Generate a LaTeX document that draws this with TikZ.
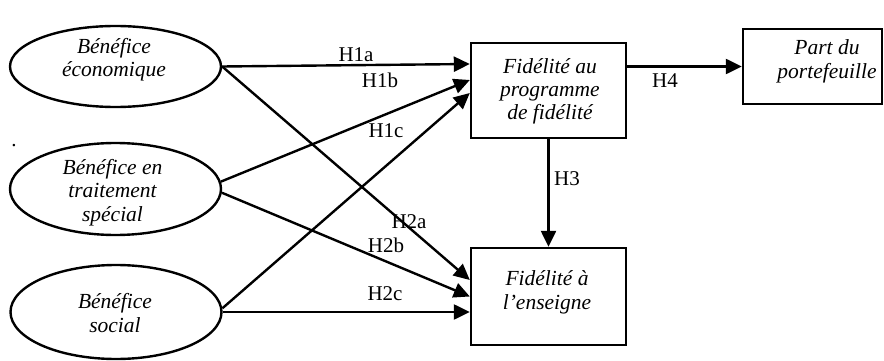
\documentclass[tikz,border=0pt]{standalone}
\usepackage{fontspec}
\setmainfont{Liberation Serif}
\usetikzlibrary{arrows.meta,shapes.geometric}
\begin{document}
\begin{tikzpicture}[x=1pt,y=-1pt,
  font=\fontsize{21}{23.5}\selectfont,
  ell/.style={draw, ellipse, line width=2.4pt, minimum width=211pt, inner sep=0pt},
  box/.style={draw, rectangle, line width=2.4pt, inner sep=0pt},
  txt/.style={font=\fontsize{21.5}{23.5}\selectfont\itshape, align=center, anchor=base, inner sep=0pt},
  lab/.style={anchor=base, inner sep=0pt},
  arr/.style={line width=2.4pt, -{Triangle[length=16pt,width=15pt]}}]
\useasboundingbox (0,0) rectangle (884,361);
% shapes
\node[ell, minimum height=81pt] (e1) at (115.5,66.5) {};
\node[ell, minimum height=92pt] (e2) at (115.5,189) {};
\node[ell, minimum height=94pt] (e3) at (116,312) {};
\node[box, minimum width=155pt, minimum height=95pt] (b1) at (548.5,90.5) {};
\node[box, minimum width=155pt, minimum height=97pt] (b3) at (548.5,296.5) {};
\node[box, minimum width=139pt, minimum height=75pt] (b2) at (812.5,66.5) {};
% texts (anchor base = last line baseline)
\node[txt] (t1) at (114,77) {Bénéfice\\économique};
\node[txt] (t2) at (112.5,221) {Bénéfice en\\traitement\\spécial};
\node[txt] (t3) at (115,332) {Bénéfice\\social};
\node[txt] (t4) at (550,120) {Fidélité au\\programme\\de fidélité};
\node[txt] (t5) at (547,309) {Fidélité à\\l’enseigne};
\node[txt] (t6) at (827,78) {Part du\\portefeuille};
\node[lab] (dot) at (14,146) {.};
% connectors
\draw[arr] (e1.east) -- ([yshift=26.5pt]b1.west);
\draw[arr] (e1.east) -- ([yshift=16.5pt]b3.west);
\draw[arr] (e2.4) -- ([yshift=10.5pt]b1.west);
\draw[arr] (e2.-2) -- (b3.west);
\draw[arr] (e3.2) -- ([yshift=-2.5pt]b1.west);
\draw[arr] (e3.east) -- ([yshift=-15.5pt]b3.west);
\draw[arr] (b1.south) -- (b3.north);
\draw[arr] (b1.east |- b2.west) -- (b2.west);
% labels
\node[lab] (h1a) at (356,62) {H1a};
\node[lab] (h1b) at (380,88) {H1b};
\node[lab] (h1c) at (386,137) {H1c};
\node[lab] (h2a) at (409,228) {H2a};
\node[lab] (h2b) at (386,252) {H2b};
\node[lab] (h2c) at (385,300) {H2c};
\node[lab] (h3) at (567,185) {H3};
\node[lab] (h4) at (665,88) {H4};
\end{tikzpicture}
\end{document}
